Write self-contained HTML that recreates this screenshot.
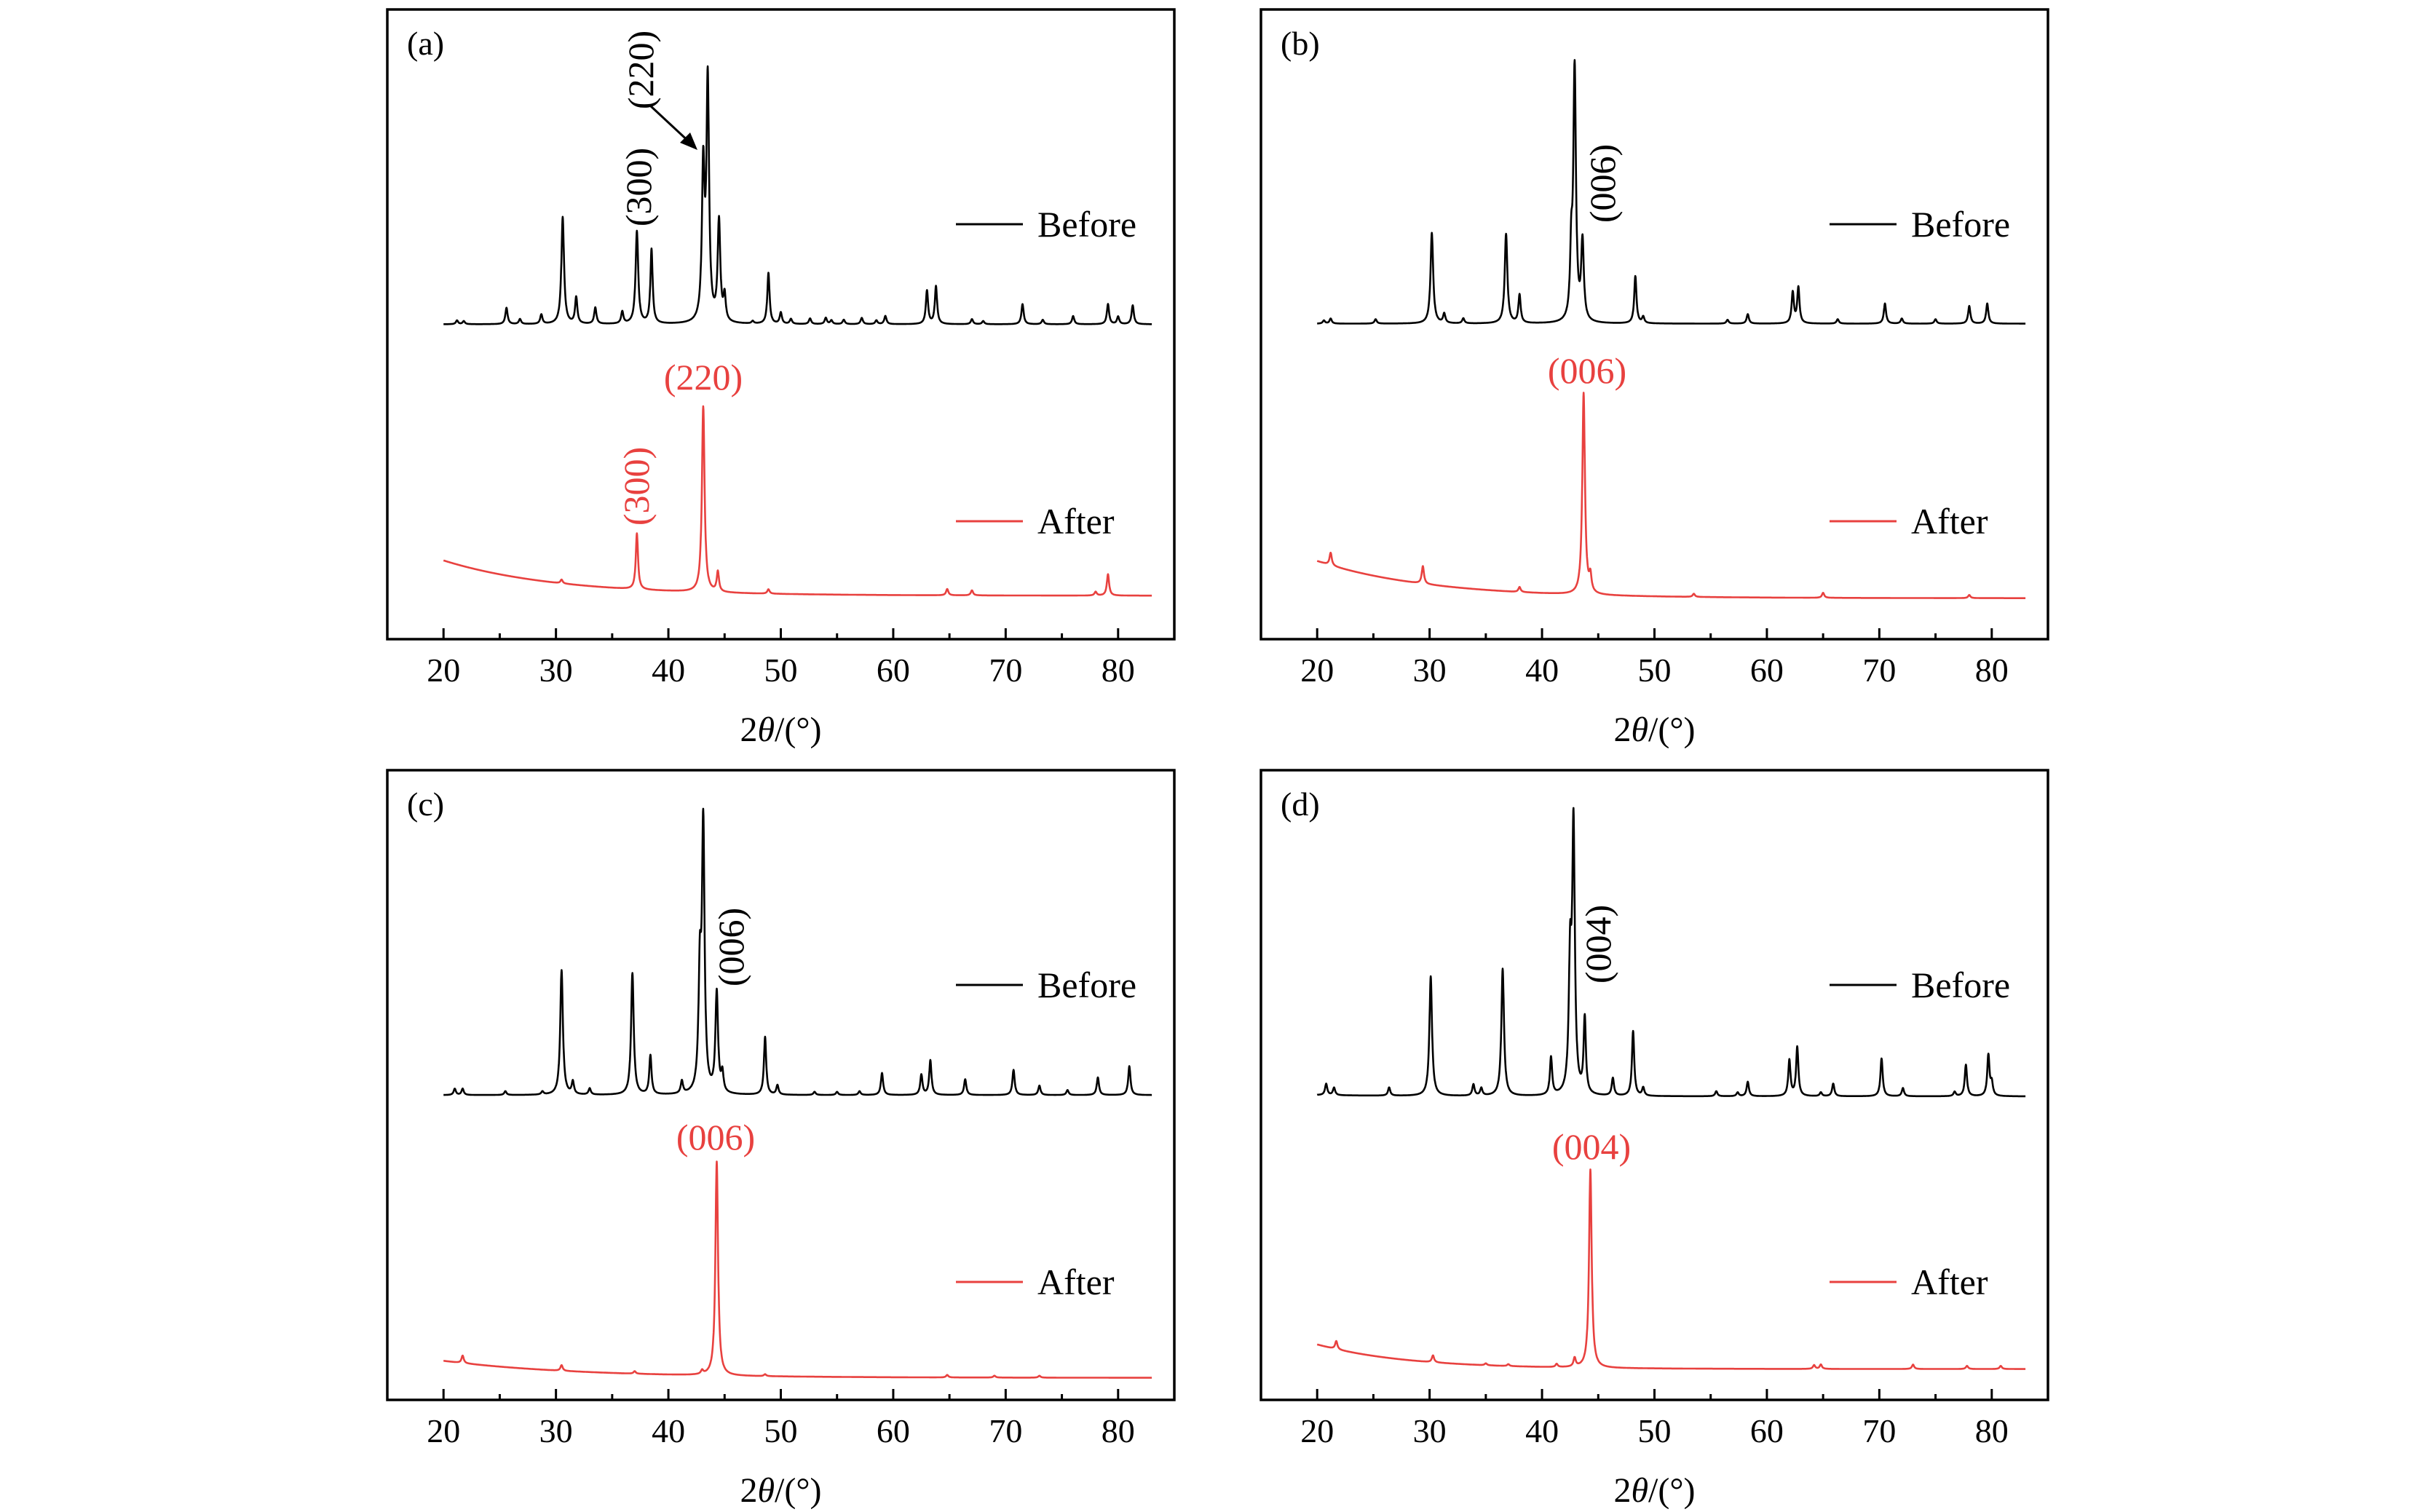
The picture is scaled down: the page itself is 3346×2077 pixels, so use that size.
<!DOCTYPE html>
<html><head><meta charset="utf-8"><style>
html,body{margin:0;padding:0;background:#fff;}
svg{display:block;font-family:"Liberation Serif",serif;}
</style></head>
<body>
<svg id="fig" width="3346" height="2077" viewBox="0 0 3346 2077" xmlns="http://www.w3.org/2000/svg"></svg>
<script>
// ---- data (y in arbitrary intensity units 0..100 of frame) ----
const xTicks = [20,30,40,50,60,70,80];
const xMinor = [25,35,45,55,65,75,85];
const panelLabels = ["(a)","(b)","(c)","(d)"];
const legendNames = ["Before","After"];

const aBeforePos = [21.2,21.8,25.6,26.8,28.7,30.6,31.8,33.5,35.9,37.2,38.5,43.1,43.5,44.5,45.0,47.5,48.9,50.0,50.9,52.6,54.0,54.5,55.6,57.2,58.5,59.3,63.0,63.8,67.0,68.0,71.5,73.3,76.0,79.1,80.0,81.3];
const aBeforeH   = [0.6,0.5,2.6,0.8,1.5,17,4.2,2.6,1.9,14.7,11.8,24,38,16,4,0.4,8.1,1.8,0.8,0.9,1,0.6,0.7,1,0.6,1.3,5.3,6.0,0.8,0.5,3.2,0.7,1.3,3.2,1.2,3.0];
const aBeforeBase = [50.0,50.0,8];
const aAfterPos  = [30.5,37.2,43.1,44.4,48.9,64.8,67.0,78.0,79.1];
const aAfterH    = [0.6,8.9,29.5,3.2,0.7,1,0.8,0.6,3.4];
const aAfterBase = [12.5,6.9,10];

const bBeforePos = [20.6,21.2,25.2,30.2,31.3,33.0,36.8,38.0,42.6,42.9,43.6,48.3,49.0,56.5,58.3,62.3,62.8,66.3,70.5,72.0,75.0,78.0,79.6];
const bBeforeH   = [0.5,0.8,0.7,14.4,1.5,0.8,14.2,4.5,10,40,12.5,7.5,1,0.6,1.5,4.9,5.7,0.7,3.2,0.8,0.7,2.8,3.2];
const bBeforeBase = [50.1,50.1,8];
const bAfterPos  = [21.2,29.4,38.0,43.7,44.3,53.5,65.0,78.0];
const bAfterH    = [2,2.8,0.8,32,2.5,0.5,0.8,0.5];
const bAfterBase = [12.4,6.5,10];

const cBeforePos = [21.0,21.7,25.5,28.8,30.5,31.5,33.0,36.8,38.4,41.2,42.8,43.1,44.3,44.8,48.6,49.7,53.0,55.0,57.0,59.0,62.5,63.3,66.4,70.7,73.0,75.5,78.2,81.0];
const cBeforeH   = [1,1,0.6,0.5,19.8,2,1,19.3,6.2,2,18,42,16,3,9.2,1.5,0.5,0.5,0.6,3.5,3.2,5.5,2.5,4,1.5,0.8,2.8,4.6];
const cBeforeBase = [48.4,48.4,8];
const cAfterPos  = [21.7,30.5,37.0,43.0,44.3,48.6,64.8,69.0,73.0];
const cAfterH    = [1.2,0.9,0.4,0.6,34,0.3,0.4,0.3,0.3];
const cAfterBase = [6.2,3.5,12];

const dBeforePos = [20.8,21.5,26.4,30.1,33.9,34.6,36.5,40.8,42.5,42.8,43.8,46.3,48.1,49.0,55.5,57.4,58.3,62.0,62.7,64.8,65.9,70.2,72.1,76.7,77.7,79.7,80.0];
const dBeforeH   = [1.8,1.2,1.3,19,1.8,1.2,20.2,6,20,42,12,2.8,10.3,1.3,0.8,0.6,2.3,5.7,7.8,0.6,2,6,1.3,0.7,5,6.5,2];
const dBeforeBase = [48.4,48.2,8];
const dAfterPos  = [21.7,30.3,35.0,37.0,41.3,42.9,44.3,64.2,64.8,73.0,77.8,80.8];
const dAfterH    = [1.3,1.1,0.3,0.3,0.5,1.4,31.5,0.6,0.7,0.7,0.5,0.5];
const dAfterBase = [8.8,4.9,8];

const NS = "http://www.w3.org/2000/svg";
const svg = document.getElementById('fig');
const RED = "#e8413f";
const PW = 1081, PH = 865, XMIN = 15, XMAX = 85;
const panels = [
  {L:532, T:13, before:[aBeforePos,aBeforeH,aBeforeBase], after:[aAfterPos,aAfterH,aAfterBase]},
  {L:1732,T:13, before:[bBeforePos,bBeforeH,bBeforeBase], after:[bAfterPos,bAfterH,bAfterBase]},
  {L:532, T:1058,before:[cBeforePos,cBeforeH,cBeforeBase], after:[cAfterPos,cAfterH,cAfterBase]},
  {L:1732,T:1058,before:[dBeforePos,dBeforeH,dBeforeBase], after:[dAfterPos,dAfterH,dAfterBase]}
];

function el(tag, attrs, parent){const e=document.createElementNS(NS,tag);for(const k in attrs)e.setAttribute(k,attrs[k]);(parent||svg).appendChild(e);return e;}
function curveVal(x, pos, h, base){
  let v = base[1] + (base[0]-base[1])*Math.exp(-(x-20)/base[2]);
  for(let i=0;i<pos.length;i++){const w = h[i]>12?0.14:0.12;const d=(x-pos[i])/w;v+=h[i]/(1+d*d);}
  return v;
}

panels.forEach((p,pi)=>{
  const sx = x => p.L + (x-XMIN)/(XMAX-XMIN)*PW;
  const sy = v => p.T + PH*(1-v/100);
  const g = el('g',{});
  
  
  [['before','#000'],['after',RED]].forEach(([key,col])=>{
    const [pos,h,base]=p[key];
    let d='';
    for(let x=20;x<=83.0001;x+=0.02){d+=(d?'L':'M')+sx(x).toFixed(1)+' '+sy(curveVal(x,pos,h,base)).toFixed(1);}
    const path=el('path',{d:d,fill:'none',stroke:col,'stroke-width':2.6,'stroke-linejoin':'round'},g);
    
    
  });
  const fr=el('rect',{x:p.L,y:p.T,width:PW,height:PH,fill:'none',stroke:'#000','stroke-width':3.5},g);
  
  
  xTicks.forEach(t=>{
    const tk=el('line',{x1:sx(t),x2:sx(t),y1:p.T+PH,y2:p.T+PH-15,stroke:'#000','stroke-width':3},g);
    
    
    const tl=el('text',{x:sx(t),y:p.T+PH+58,'font-size':46,'text-anchor':'middle'},g);
    tl.textContent=t;
    
    
  });
  xMinor.forEach(t=>{
    if(t>=XMAX) return;
    const tk=el('line',{x1:sx(t),x2:sx(t),y1:p.T+PH,y2:p.T+PH-8,stroke:'#000','stroke-width':3},g);
    
    
  });
  const at=el('text',{x:p.L+PW/2,y:p.T+PH+140,'font-size':48,'text-anchor':'middle'},g);
  at.innerHTML='2<tspan font-style="italic">θ</tspan>/(°)';
  
  
  const pl=el('text',{x:p.L+27,y:p.T+62,'font-size':46},g);
  pl.textContent=panelLabels[pi];
  
  
  [[legendNames[0],'#000',295],[legendNames[1],RED,703]].forEach(([nm,col,yy])=>{
    const ll=el('line',{x1:p.L+781,x2:p.L+873,y1:p.T+yy,y2:p.T+yy,stroke:col,'stroke-width':3},g);
    
    
    const lt=el('text',{x:p.L+893,y:p.T+yy+17,'font-size':50},g);
    lt.textContent=nm;
    
    
  });
});

const annos = [
  ["(300)",877,257,true,'#000'],["(220)",880,96,true,'#000'],
  ["(220)",966,518,false,RED],["(300)",874,668,true,RED],
  ["(006)",2201,252,true,'#000'],["(006)",2180,509,false,RED],
  ["(006)",1004,1301,true,'#000'],["(006)",983,1562,false,RED],
  ["(004)",2195,1297,true,'#000'],["(004)",2186,1575,false,RED]
];
annos.forEach(a=>{
  const t=el('text',{x:a[1],y:a[2],'font-size':50,'text-anchor':'middle','dominant-baseline':'central',fill:a[4]});
  if(a[3]) t.setAttribute('transform','rotate(-90 '+a[1]+' '+a[2]+')');
  t.textContent=a[0];
  
  
});
const arr=el('line',{x1:893,y1:145,x2:950,y2:198,stroke:'#000','stroke-width':3});


const ah=el('polygon',{points:'958,206 934,196 948,182',fill:'#000'});


</script>
</body></html>
